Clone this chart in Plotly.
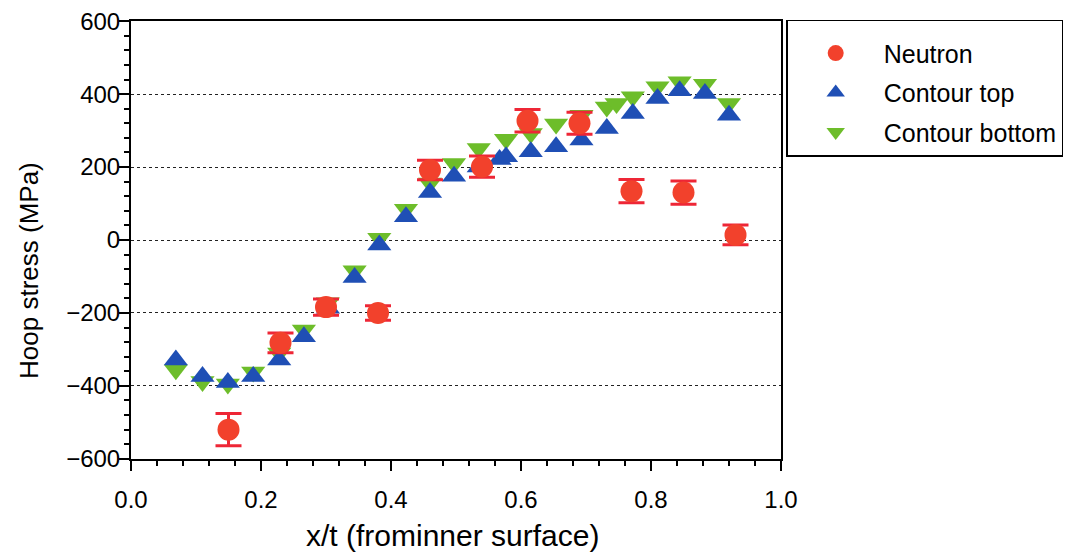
import plotly.graph_objects as go

# Neutron measurements
neutron_x = [0.15, 0.23, 0.30, 0.38, 0.46, 0.54, 0.61, 0.69, 0.77, 0.85, 0.93]
neutron_y = [-520, -282, -184, -200, 192, 201, 327, 320, 134, 130, 14]
neutron_err = [44, 27, 22, 20, 27, 29, 31, 30, 32, 32, 27]

# Contour method, top
top_x = [0.069, 0.110, 0.149, 0.188, 0.228, 0.266, 0.303, 0.344, 0.382, 0.423, 0.460, 0.497,
         0.535, 0.567, 0.577, 0.615, 0.654, 0.693, 0.732, 0.772, 0.810, 0.844, 0.883, 0.920]
top_y = [-329, -374, -391, -374, -329, -265, -187, -103, -14, 64, 130, 175,
         200, 221, 228, 242, 256, 274, 306, 347, 388, 409, 402, 342]

# Contour method, bottom
bot_x = [0.069, 0.110, 0.149, 0.188, 0.228, 0.266, 0.303, 0.344, 0.382, 0.423, 0.460, 0.497,
         0.535, 0.577, 0.615, 0.654, 0.693, 0.732, 0.747, 0.772, 0.810, 0.844, 0.883, 0.920]
bot_y = [-356, -388, -395, -362, -310, -247, -172, -84, 5, 84, 156, 210,
         251, 276, 292, 318, 342, 365, 374, 393, 420, 434, 427, 374]

RED = "#f2412c"
RED_BAR = "#ee2636"
BLUE = "#1f4fb5"
GREEN = "#6dbd2a"

fig = go.Figure()
fig.add_trace(go.Scatter(
    x=bot_x, y=bot_y, mode="markers", name="Contour bottom", legendgroup="c", legendrank=3,
    marker=dict(symbol="triangle-down", size=21, color=GREEN, line=dict(width=0)),
))
fig.add_trace(go.Scatter(
    x=top_x, y=top_y, mode="markers", name="Contour top", legendgroup="b", legendrank=2,
    marker=dict(symbol="triangle-up", size=21, color=BLUE, line=dict(width=0)),
))
fig.add_trace(go.Scatter(
    x=neutron_x, y=neutron_y, mode="markers", name="Neutron", legendgroup="a", legendrank=1,
    marker=dict(symbol="circle", size=22, color=RED, line=dict(width=0)),
    error_y=dict(type="data", array=neutron_err, visible=True, color=RED_BAR,
                 thickness=3, width=13),
))

font = "Arial, Liberation Sans, sans-serif"
# page body has an 8px margin, so the figure is 8px smaller than the window
fig.update_layout(
    width=1063, height=549,
    margin=dict(l=123, r=290, t=13, b=98, autoexpand=False),
    paper_bgcolor="white", plot_bgcolor="white",
    font=dict(family=font, size=24, color="black"),
    showlegend=True,
    legend=dict(
        x=1.008, y=1.003, xanchor="left", yanchor="top",
        traceorder="grouped", tracegroupgap=4,
        bgcolor="white", bordercolor="black", borderwidth=1.5,
        font=dict(family=font, size=25, color="black"),
        itemwidth=86,
        title=dict(text=" ", font=dict(size=7)),
    ),
    xaxis=dict(
        range=[0, 1], dtick=0.2, tick0=0, tickformat=".1f",
        showgrid=False, zeroline=False, automargin=False,
        showline=True, linecolor="black", linewidth=2, mirror=True,
        ticks="outside", ticklen=10, tickwidth=2, tickcolor="black",
        minor=dict(dtick=0.04, ticks="outside", ticklen=5, tickwidth=1.5, tickcolor="black", showgrid=False),
        ticklabelstandoff=8, ticklabeloverflow="allow",
    ),
    yaxis=dict(
        range=[-600.5, 600.5], dtick=200, tick0=0,
        showgrid=True, gridcolor="#222", gridwidth=1, griddash="dot",
        zeroline=False, automargin=False,
        showline=True, linecolor="black", linewidth=2, mirror=True,
        ticks="outside", ticklen=10, tickwidth=2, tickcolor="black",
        minor=dict(dtick=40, ticks="outside", ticklen=5, tickwidth=1.5, tickcolor="black", showgrid=False),
        ticklabelstandoff=-6, ticklabeloverflow="allow",
    ),
    annotations=[
        dict(
            text="Hoop stress (MPa)", textangle=-90, showarrow=False,
            xref="paper", yref="paper", x=-0.158, y=0.43,
            xanchor="center", yanchor="middle",
            font=dict(family=font, size=26, color="black"),
        ),
        dict(
            text="x/t (frominner surface)", showarrow=False,
            xref="paper", yref="paper", x=0.495, y=-0.174,
            xanchor="center", yanchor="middle",
            font=dict(family=font, size=30, color="black"),
        ),
    ],
)

fig.write_html("out.html")
